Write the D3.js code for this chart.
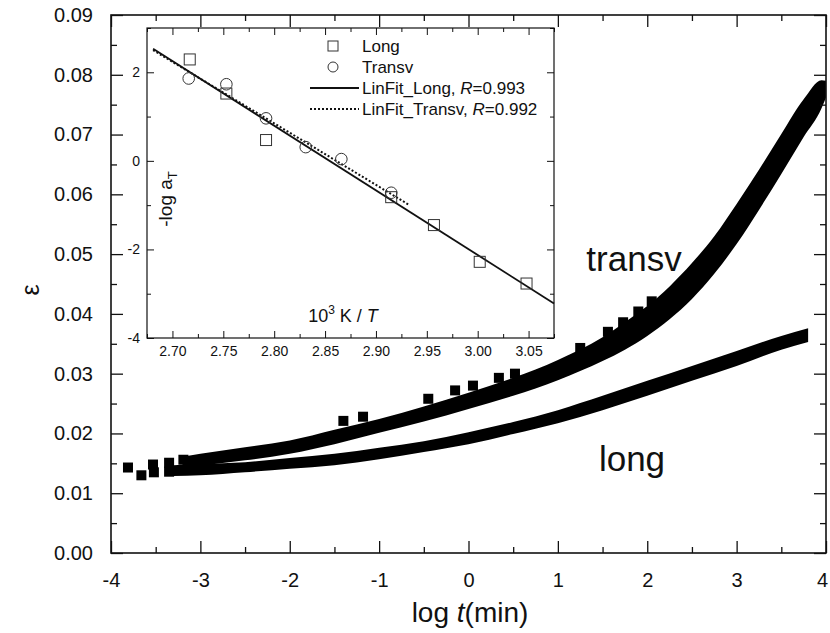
<!DOCTYPE html>
<html>
<head>
<meta charset="utf-8">
<script src="https://cdn.jsdelivr.net/npm/d3@7"></script>
<style>
  body { margin: 0; background: #fff; }
  svg { font-family: "Liberation Sans", Arial, sans-serif; }
  .tick line { stroke: #111; }
</style>
</head>
<body>
<div id="chart"></div>
<script>
// ---- main panel: strain master curves, [log t, lower edge, upper edge] of the dense band
const transvBand = [
  [-3.2, 0.0143, 0.0161], [-3.0, 0.0146, 0.0166], [-2.5, 0.0155, 0.0177],
  [-2.0, 0.0166, 0.0188], [-1.5, 0.0182, 0.0206], [-1.0, 0.0201, 0.0224],
  [-0.5, 0.0220, 0.0245], [0.0, 0.0241, 0.0268], [0.5, 0.0263, 0.0293],
  [1.0, 0.0289, 0.0323], [1.5, 0.0321, 0.0361], [1.75, 0.0340, 0.0386],
  [2.0, 0.0363, 0.0413], [2.25, 0.0391, 0.0446], [2.5, 0.0425, 0.0485],
  [2.75, 0.0467, 0.0530], [3.0, 0.0517, 0.0584], [3.25, 0.0574, 0.0641],
  [3.5, 0.0634, 0.0701], [3.75, 0.0696, 0.0759], [3.95, 0.0744, 0.0791],
  [4.0, 0.0762, 0.0790]
]
const longBand = [
  [-3.3, 0.0129, 0.0147], [-3.0, 0.0130, 0.0149], [-2.5, 0.0135, 0.0152],
  [-2.0, 0.0141, 0.0159], [-1.5, 0.0147, 0.0166], [-1.0, 0.0157, 0.0176],
  [-0.5, 0.0169, 0.0187], [0.0, 0.0182, 0.0202], [0.5, 0.0199, 0.0219],
  [1.0, 0.0217, 0.0239], [1.5, 0.0239, 0.0263], [2.0, 0.0263, 0.0288],
  [2.5, 0.0288, 0.0313], [3.0, 0.0313, 0.0338], [3.5, 0.0340, 0.0363],
  [3.8, 0.0353, 0.0376]
]
// single square markers that stand out of the bands
const transvMarks = [
  [-3.81, 0.0143], [-3.53, 0.0148], [-3.35, 0.0151], [-3.19, 0.0156],
  [-1.40, 0.0221], [-1.18, 0.0228], [-0.45, 0.0258], [-0.15, 0.0272],
  [0.05, 0.0280], [0.34, 0.0293], [0.52, 0.0300], [1.25, 0.0343],
  [1.56, 0.0370], [1.73, 0.0386], [1.90, 0.0404], [2.05, 0.0421]
]
const longMarks = [
  [-3.66, 0.0130], [-3.52, 0.0135], [-3.35, 0.0136]
]
const xTicks = [-4, -3, -2, -1, 0, 1, 2, 3, 4]
const yTicks = [0, 0.01, 0.02, 0.03, 0.04, 0.05, 0.06, 0.07, 0.08, 0.09]

// ---- inset: shift factors vs 1000/T
const longT = [2.717, 2.753, 2.792, 2.915, 2.957, 3.002, 3.048]
const longShift = [2.29, 1.52, 0.47, -0.82, -1.45, -2.28, -2.77]
const transvT = [2.716, 2.753, 2.792, 2.831, 2.866, 2.915]
const transvShift = [1.86, 1.73, 0.96, 0.31, 0.04, -0.72]
const longFit = [[2.681, 2.53], [3.075, -3.22]]
const transvFit = [[2.681, 2.50], [2.933, -1.00]]
const insetXTicks = [2.70, 2.75, 2.80, 2.85, 2.90, 2.95, 3.00, 3.05]
const insetYTicks = [-4, -2, 0, 2]
const legendItems = ["Long", "Transv", "LinFit_Long, ", "LinFit_Transv, "]
const legendR = ["", "", "0.993", "0.992"]

const width = 830
const height = 633
const box = { left: 111, right: 826, top: 15, bottom: 553 }
const ibox = { left: 147, right: 554, top: 28, bottom: 338 }

const svg = d3.select("#chart")
  .append("svg")
    .attr("width", width)
    .attr("height", height)

const xScale = d3.scaleLinear().domain([-4, 4]).range([box.left, box.right])
const yScale = d3.scaleLinear().domain([0, 0.09]).range([box.bottom, box.top])

// bands
const bandArea = d3.area()
  .x(d => xScale(d[0]))
  .y0(d => yScale(d[1]))
  .y1(d => yScale(d[2]))
  .curve(d3.curveMonotoneX)

svg.append("path").attr("d", bandArea(transvBand)).attr("fill", "#000")
svg.append("path").attr("d", bandArea(longBand)).attr("fill", "#000")

const sq = 10
svg.selectAll(".mark")
  .data(transvMarks.concat(longMarks))
  .join("rect")
    .attr("x", d => xScale(d[0]) - sq / 2)
    .attr("y", d => yScale(d[1]) - sq / 2)
    .attr("width", sq)
    .attr("height", sq)
    .attr("fill", "#000")

// axes, ticks inward on all four sides
function tickAxes(g, gen) { g.call(gen); g.select(".domain").remove() }
const plain = d => String(d)   // hyphen minus like the original
const xMinor = d3.range(-3.5, 4, 1)
const yMinor = d3.range(0.005, 0.09, 0.01)

const xAxis = svg.append("g").attr("transform", `translate(0,${box.bottom})`)
  .call(tickAxes, d3.axisBottom(xScale).tickValues(xTicks).tickSize(-12).tickPadding(20).tickFormat(plain))
xAxis.selectAll(".tick text").filter(d => d === 4).attr("dx", -4)
svg.append("g").attr("transform", `translate(0,${box.bottom})`)
  .call(tickAxes, d3.axisBottom(xScale).tickValues(xMinor).tickSize(-6).tickFormat(""))
svg.append("g").attr("transform", `translate(0,${box.top})`)
  .call(tickAxes, d3.axisTop(xScale).tickValues(xTicks).tickSize(-12).tickFormat(""))
svg.append("g").attr("transform", `translate(0,${box.top})`)
  .call(tickAxes, d3.axisTop(xScale).tickValues(xMinor).tickSize(-6).tickFormat(""))
svg.append("g").attr("transform", `translate(${box.left},0)`)
  .call(tickAxes, d3.axisLeft(yScale).tickValues(yTicks).tickSize(-12).tickPadding(18).tickFormat(d3.format(".2f")))
svg.append("g").attr("transform", `translate(${box.left},0)`)
  .call(tickAxes, d3.axisLeft(yScale).tickValues(yMinor).tickSize(-6).tickFormat(""))
svg.append("g").attr("transform", `translate(${box.right},0)`)
  .call(tickAxes, d3.axisRight(yScale).tickValues(yTicks).tickSize(-12).tickFormat(""))
svg.append("g").attr("transform", `translate(${box.right},0)`)
  .call(tickAxes, d3.axisRight(yScale).tickValues(yMinor).tickSize(-6).tickFormat(""))

svg.selectAll(".tick text")
  .attr("font-size", 20)
  .attr("font-family", "Liberation Sans, Arial, sans-serif")
  .attr("fill", "#111")
svg.selectAll(".tick line").attr("stroke-width", 1.3)

svg.append("rect")
  .attr("x", box.left).attr("y", box.top)
  .attr("width", box.right - box.left).attr("height", box.bottom - box.top)
  .attr("fill", "none").attr("stroke", "#111").attr("stroke-width", 1.6)

// axis titles
const xTitle = svg.append("text")
  .attr("x", 470).attr("y", 622)
  .attr("text-anchor", "middle")
  .attr("font-size", 28).attr("fill", "#111")
xTitle.append("tspan").text("log ")
xTitle.append("tspan").attr("font-style", "italic").text("t")
xTitle.append("tspan").text("(min)")

svg.append("text")
  .attr("transform", "translate(30,290) rotate(-90)")
  .attr("text-anchor", "middle")
  .attr("dy", "0.35em")
  .attr("font-size", 25).attr("fill", "#111")
  .text("ε")

svg.append("text").attr("x", 634).attr("y", 271)
  .attr("text-anchor", "middle").attr("font-size", 35).attr("fill", "#111")
  .text("transv")
svg.append("text").attr("x", 632).attr("y", 471)
  .attr("text-anchor", "middle").attr("font-size", 35).attr("fill", "#111")
  .text("long")

// ---- inset
const ix = d3.scaleLinear().domain([2.675, 3.075]).range([ibox.left, ibox.right])
const iy = d3.scaleLinear().domain([-4, 3]).range([ibox.bottom, ibox.top])
const inset = svg.append("g")

inset.append("rect")
  .attr("x", ibox.left).attr("y", ibox.top)
  .attr("width", ibox.right - ibox.left).attr("height", ibox.bottom - ibox.top)
  .attr("fill", "#fff")

const ixMinor = d3.range(2.675, 3.08, 0.05).map(v => +v.toFixed(3))
const iyMinor = [-3, -1, 1, 3]

inset.append("g").attr("transform", `translate(0,${ibox.bottom})`)
  .call(tickAxes, d3.axisBottom(ix).tickValues(insetXTicks).tickSize(-7).tickPadding(8).tickFormat(d3.format(".2f")))
inset.append("g").attr("transform", `translate(0,${ibox.bottom})`)
  .call(tickAxes, d3.axisBottom(ix).tickValues(ixMinor).tickSize(-4).tickFormat(""))
inset.append("g").attr("transform", `translate(0,${ibox.top})`)
  .call(tickAxes, d3.axisTop(ix).tickValues(insetXTicks).tickSize(-7).tickFormat(""))
inset.append("g").attr("transform", `translate(0,${ibox.top})`)
  .call(tickAxes, d3.axisTop(ix).tickValues(ixMinor).tickSize(-4).tickFormat(""))
inset.append("g").attr("transform", `translate(${ibox.left},0)`)
  .call(tickAxes, d3.axisLeft(iy).tickValues(insetYTicks).tickSize(-7).tickPadding(7).tickFormat(plain))
inset.append("g").attr("transform", `translate(${ibox.left},0)`)
  .call(tickAxes, d3.axisLeft(iy).tickValues(iyMinor).tickSize(-4).tickFormat(""))
inset.append("g").attr("transform", `translate(${ibox.right},0)`)
  .call(tickAxes, d3.axisRight(iy).tickValues(insetYTicks).tickSize(-7).tickFormat(""))
inset.append("g").attr("transform", `translate(${ibox.right},0)`)
  .call(tickAxes, d3.axisRight(iy).tickValues(iyMinor).tickSize(-4).tickFormat(""))

inset.selectAll(".tick text")
  .attr("font-size", 14)
  .attr("font-family", "Liberation Sans, Arial, sans-serif")
  .attr("fill", "#111")
inset.selectAll(".tick line").attr("stroke-width", 1)

inset.append("rect")
  .attr("x", ibox.left).attr("y", ibox.top)
  .attr("width", ibox.right - ibox.left).attr("height", ibox.bottom - ibox.top)
  .attr("fill", "none").attr("stroke", "#111").attr("stroke-width", 1.2)

const fitLine = d3.line().x(d => ix(d[0])).y(d => iy(d[1]))
inset.append("path").attr("d", fitLine(longFit))
  .attr("fill", "none").attr("stroke", "#111").attr("stroke-width", 1.8)
inset.append("path").attr("d", fitLine(transvFit))
  .attr("fill", "none").attr("stroke", "#111").attr("stroke-width", 2)
  .attr("stroke-dasharray", "2,2")

inset.selectAll(".sq")
  .data(d3.zip(longT, longShift))
  .join("rect")
    .attr("x", d => ix(d[0]) - 5.5)
    .attr("y", d => iy(d[1]) - 5.5)
    .attr("width", 11).attr("height", 11)
    .attr("fill", "none").attr("stroke", "#333").attr("stroke-width", 1)
inset.selectAll(".ci")
  .data(d3.zip(transvT, transvShift))
  .join("circle")
    .attr("cx", d => ix(d[0]))
    .attr("cy", d => iy(d[1]))
    .attr("r", 5.8)
    .attr("fill", "none").attr("stroke", "#333").attr("stroke-width", 1)

// inset titles
const iyTitle = inset.append("text")
  .attr("transform", "translate(172,199) rotate(-90)")
  .attr("text-anchor", "middle")
  .attr("font-size", 19).attr("fill", "#111")
iyTitle.append("tspan").text("-log a")
iyTitle.append("tspan").attr("font-size", 13).attr("dy", 5).text("T")

const ixTitle = inset.append("text")
  .attr("x", 343).attr("y", 322)
  .attr("text-anchor", "middle")
  .attr("font-size", 18).attr("fill", "#111")
ixTitle.append("tspan").text("10")
ixTitle.append("tspan").attr("font-size", 12).attr("dy", -8).text("3")
ixTitle.append("tspan").attr("dy", 8).text(" K / ")
ixTitle.append("tspan").attr("font-style", "italic").text("T")

// legend
const legendY = [46, 67, 88, 109]
const lg = inset.append("g")
lg.append("rect").attr("x", 328).attr("y", legendY[0] - 5).attr("width", 10).attr("height", 10)
  .attr("fill", "none").attr("stroke", "#333")
lg.append("circle").attr("cx", 333).attr("cy", legendY[1]).attr("r", 5)
  .attr("fill", "none").attr("stroke", "#333")
lg.append("line").attr("x1", 310).attr("x2", 359).attr("y1", legendY[2]).attr("y2", legendY[2])
  .attr("stroke", "#111").attr("stroke-width", 1.8)
lg.append("line").attr("x1", 310).attr("x2", 359).attr("y1", legendY[3]).attr("y2", legendY[3])
  .attr("stroke", "#111").attr("stroke-width", 2).attr("stroke-dasharray", "2,2")

legendItems.forEach((name, i) => {
  const t = lg.append("text")
    .attr("x", 362).attr("y", legendY[i]).attr("dy", "0.35em")
    .attr("font-size", 17).attr("fill", "#111")
  t.append("tspan").text(name)
  if (legendR[i]) {
    t.append("tspan").attr("font-style", "italic").text("R")
    t.append("tspan").text("=" + legendR[i])
  }
})
</script>
</body>
</html>
